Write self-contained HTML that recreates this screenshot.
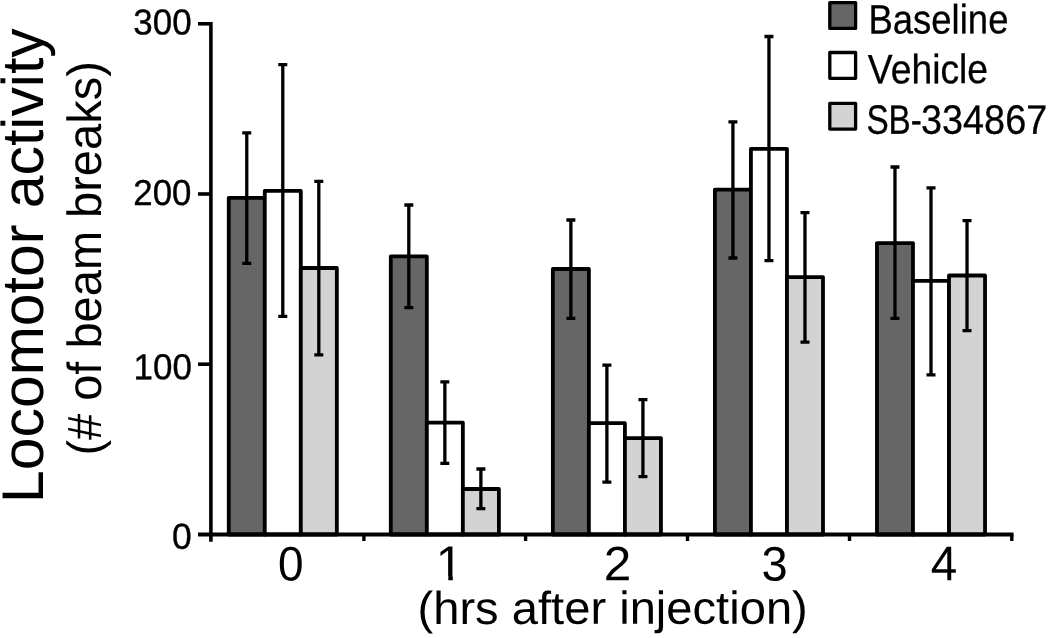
<!DOCTYPE html>
<html lang="en">
<head>
<meta charset="utf-8">
<title>Locomotor activity after injection</title>
<style>
html,body{margin:0;padding:0;background:#fff;}
body{width:1050px;height:638px;overflow:hidden;}
svg{display:block;filter:blur(0.45px);}
text{font-family:"Liberation Sans",Arial,sans-serif;fill:#000;text-rendering:geometricPrecision;}
</style>
</head>
<body>
<svg width="1050" height="638" viewBox="0 0 1050 638">
<rect x="0" y="0" width="1050" height="638" fill="#ffffff"/>

<g stroke="#000" stroke-width="3.8" stroke-linejoin="round">
<rect x="228.75" y="197.80" width="36.03" height="336.70" fill="#666666"/>
<rect x="264.78" y="190.80" width="36.03" height="343.70" fill="#ffffff"/>
<rect x="300.81" y="268.00" width="36.03" height="266.50" fill="#d3d3d3"/>
<rect x="390.80" y="256.40" width="36.03" height="278.10" fill="#666666"/>
<rect x="426.83" y="422.60" width="36.03" height="111.90" fill="#ffffff"/>
<rect x="462.86" y="489.00" width="36.03" height="45.50" fill="#d3d3d3"/>
<rect x="552.85" y="269.00" width="36.03" height="265.50" fill="#666666"/>
<rect x="588.88" y="423.20" width="36.03" height="111.30" fill="#ffffff"/>
<rect x="624.91" y="438.10" width="36.03" height="96.40" fill="#d3d3d3"/>
<rect x="714.90" y="189.60" width="36.03" height="344.90" fill="#666666"/>
<rect x="750.93" y="148.80" width="36.03" height="385.70" fill="#ffffff"/>
<rect x="786.96" y="277.10" width="36.03" height="257.40" fill="#d3d3d3"/>
<rect x="876.95" y="243.10" width="36.03" height="291.40" fill="#666666"/>
<rect x="912.98" y="280.90" width="36.03" height="253.60" fill="#ffffff"/>
<rect x="949.01" y="275.50" width="36.03" height="259.00" fill="#d3d3d3"/>
</g>
<g stroke="#000" stroke-width="3.3" fill="none">
<path d="M246.76 132.80V263.30M242.26 132.80h9M242.26 263.30h9"/>
<path d="M282.79 64.60V316.30M278.29 64.60h9M278.29 316.30h9"/>
<path d="M318.82 181.40V354.80M314.32 181.40h9M314.32 354.80h9"/>
<path d="M408.81 205.00V307.60M404.31 205.00h9M404.31 307.60h9"/>
<path d="M444.85 381.80V463.30M440.35 381.80h9M440.35 463.30h9"/>
<path d="M480.88 469.00V508.60M476.38 469.00h9M476.38 508.60h9"/>
<path d="M570.87 220.00V318.40M566.37 220.00h9M566.37 318.40h9"/>
<path d="M606.89 365.20V482.20M602.39 365.20h9M602.39 482.20h9"/>
<path d="M642.93 399.60V476.70M638.43 399.60h9M638.43 476.70h9"/>
<path d="M732.92 121.80V258.00M728.42 121.80h9M728.42 258.00h9"/>
<path d="M768.95 36.50V260.60M764.45 36.50h9M764.45 260.60h9"/>
<path d="M804.98 212.60V342.10M800.48 212.60h9M800.48 342.10h9"/>
<path d="M894.97 167.00V318.40M890.47 167.00h9M890.47 318.40h9"/>
<path d="M931.00 187.90V374.90M926.50 187.90h9M926.50 374.90h9"/>
<path d="M967.02 220.60V330.60M962.52 220.60h9M962.52 330.60h9"/>
</g>
<g stroke="#000" fill="none">
<path d="M210.90 22V541.7" stroke-width="3.6"/>
<path d="M198 534.50H1013.5" stroke-width="4"/>
<path d="M198 23.80H210.90" stroke-width="3.6"/>
<path d="M198 194.00H210.90" stroke-width="3.6"/>
<path d="M198 364.20H210.90" stroke-width="3.6"/>
<path d="M363.90 534.50V541" stroke-width="3.4"/>
<path d="M525.60 534.50V541" stroke-width="3.4"/>
<path d="M687.50 534.50V541" stroke-width="3.4"/>
<path d="M849.50 534.50V541" stroke-width="3.4"/>
<path d="M1011.80 534.50V541" stroke-width="3.4"/>
</g>
<text transform="translate(133.25 34.46) rotate(-0.05) scale(0.9710 1)" font-size="36" stroke="#000" stroke-width="0.35" stroke-linejoin="round">300</text>
<text transform="translate(133.25 204.93) rotate(-0.05) scale(0.9680 1)" font-size="36" stroke="#000" stroke-width="0.35" stroke-linejoin="round">200</text>
<text transform="translate(133.50 379.20) rotate(-0.05) scale(0.9720 1)" font-size="36" stroke="#000" stroke-width="0.35" stroke-linejoin="round">100</text>
<text transform="translate(172.05 548.87) rotate(-0.05) scale(0.9850 1)" font-size="36" stroke="#000" stroke-width="0.35" stroke-linejoin="round">0</text>
<text transform="translate(278.04 580.40) rotate(-0.05) scale(0.9470 1)" font-size="48.5">0</text>
<text transform="translate(435.80 580.30) rotate(-0.05) scale(1.0000 1)" font-size="49.2">1</text>
<text transform="translate(603.67 580.30) rotate(-0.05) scale(1.0250 1)" font-size="48.3">2</text>
<text transform="translate(761.39 580.40) rotate(-0.05) scale(0.9720 1)" font-size="48.5">3</text>
<text transform="translate(930.72 580.30) rotate(-0.05) scale(0.9810 1)" font-size="48.5">4</text>
<rect x="436" y="575.8" width="12.3" height="6.4" fill="#fff"/><rect x="452.8" y="575.8" width="10.5" height="6.4" fill="#fff"/>
<text transform="translate(417.50 624.00) rotate(-0.05) scale(1.0205 1)" font-size="46.2">(hrs after injection)</text>
<text transform="translate(43.40 503.00) rotate(-90) scale(1.0020 1)" font-size="58.8">Locomotor activity</text>
<text transform="translate(101.10 455.60) rotate(-90) scale(0.9790 1)" font-size="48">(# of beam breaks)</text>
<g stroke="#000" stroke-width="3.3" stroke-linejoin="round">
<rect x="829.8" y="2.6" width="25.8" height="25.8" fill="#666666"/>
<rect x="829.8" y="52.5" width="25.8" height="25.8" fill="#ffffff"/>
<rect x="829.8" y="103.3" width="25.8" height="25.8" fill="#d3d3d3"/>
</g>
<text transform="translate(868.45 33.45) rotate(-0.05) scale(0.8900 1)" font-size="41.0" stroke="#000" stroke-width="0.3" stroke-linejoin="round">Baseline</text>
<text transform="translate(867.80 83.20) rotate(-0.05) scale(0.9100 1)" font-size="41.0" stroke="#000" stroke-width="0.3" stroke-linejoin="round">Vehicle</text>
<text transform="translate(866.40 133.75) rotate(-0.05) scale(0.8124 1)" font-size="41.0" stroke="#000" stroke-width="0.3" stroke-linejoin="round">SB-</text><text transform="translate(920.96 133.75) rotate(-0.05) scale(0.9230 1)" font-size="41.0" stroke="#000" stroke-width="0.3" stroke-linejoin="round">334867</text>
</svg>
</body>
</html>
